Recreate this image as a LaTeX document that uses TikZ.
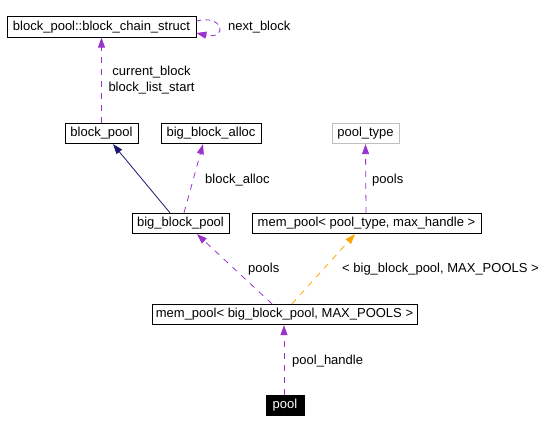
\documentclass[tikz,border=0pt]{standalone}
\usepackage{fontspec}
\setmainfont{Liberation Sans}
\usetikzlibrary{arrows.meta}
\definecolor{edgepurple}{HTML}{9A32CD}
\definecolor{inhblue}{HTML}{191970}
\definecolor{edgeorange}{HTML}{FFA500}
\definecolor{graybox}{HTML}{BFBFBF}
\tikzset{
  cls/.style={draw=black, line width=0.8pt, minimum height=20.5pt, inner sep=0pt, font=\fontsize{13}{15}\selectfont, fill=white},
  lbl/.style={inner sep=0pt, anchor=west, font=\fontsize{13}{15}\selectfont},
  tip/.style={-{Triangle[length=10pt,width=7pt]}},
  usage/.style={tip, draw=edgepurple, line width=0.8pt, dash pattern=on 6pt off 6pt},
  inherit/.style={tip, draw=inhblue, line width=0.8pt},
  templ/.style={tip, draw=edgeorange, line width=0.8pt, dash pattern=on 6pt off 6pt},
}
\begin{document}
\begin{tikzpicture}[x=1pt,y=-1pt]
\useasboundingbox (0,0) rectangle (553,433);
\node[cls, minimum width=189pt] (chain) at (101.5,27) {block\_pool::block\_chain\_struct};
\node[cls, minimum width=73pt] (blockpool) at (101.5,133.5) {block\_pool};
\node[cls, minimum width=100pt] (bba) at (211,133.5) {big\_block\_alloc};
\node[cls, minimum width=67pt, draw=graybox] (pooltype) at (365.5,133.5) {pool\_type};
\node[cls, minimum width=97pt] (bbp) at (180.5,223.5) {big\_block\_pool};
\node[cls, minimum width=229pt] (mpt) at (366.5,223.5) {mem\_pool\textless{} pool\_type, max\_handle \textgreater};
\node[cls, minimum width=265pt] (mpb) at (284.5,314.5) {mem\_pool\textless{} big\_block\_pool, MAX\_POOLS \textgreater};
\node[cls, minimum width=38pt, fill=black, text=white] (pool) at (285,405.5) {pool};

% self loop
\draw[usage, dash pattern=on 5pt off 4pt] ([yshift=6pt]chain.east) .. controls (224,14) and (228,40) .. ([yshift=-6pt]chain.east);
\node[lbl] (lnext) at (228,27) {next\_block};

\draw[usage] (blockpool.north) -- (chain.south);
\node[inner sep=0pt, align=center, font=\fontsize{13}{16}\selectfont] (lcur) at (151.5,80) {current\_block\\block\_list\_start};

\draw[inherit] ([xshift=-10.5pt]bbp.north) -- ([xshift=11.5pt]blockpool.south);
\draw[usage] ([xshift=3.5pt]bbp.north) -- ([xshift=-8pt]bba.south);
\node[lbl] (lalloc) at (205,180) {block\_alloc};

\draw[usage] ([xshift=-0.5pt]mpt.north) -- (pooltype.south);
\node[lbl] (lpools1) at (372,180) {pools};

\draw[usage] ([xshift=-12.5pt]mpb.north) -- ([xshift=16.5pt]bbp.south);
\node[lbl] (lpools2) at (248,269) {pools};

\draw[templ] ([xshift=7.5pt]mpb.north) -- ([xshift=-11.5pt]mpt.south);
\node[lbl] (ltempl) at (342,269) {\textless{} big\_block\_pool, MAX\_POOLS \textgreater};

\draw[usage] ([xshift=-1pt]pool.north) -- ([xshift=-0.5pt]mpb.south);
\node[lbl] (lhandle) at (292,361) {pool\_handle};
\end{tikzpicture}
\end{document}
